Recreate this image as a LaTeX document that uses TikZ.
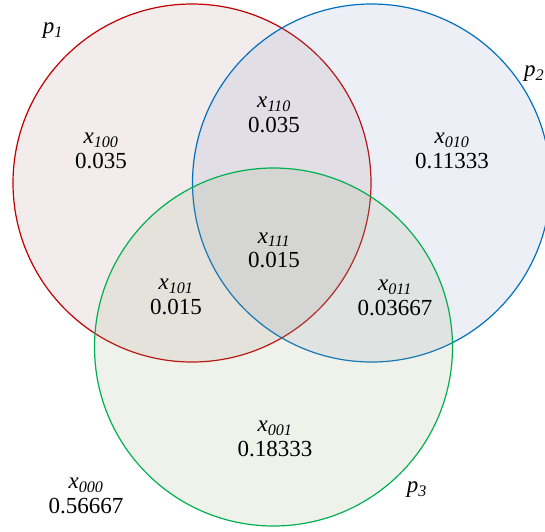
\documentclass[tikz,border=0pt]{standalone}
\usepackage{fontspec}
\setmainfont{Liberation Serif}
\usetikzlibrary{positioning}
\definecolor{redline}{RGB}{192,0,0}
\definecolor{blueline}{RGB}{0,112,192}
\definecolor{greenline}{RGB}{0,176,80}
\definecolor{redset}{RGB}{168,128,128}
\definecolor{blueset}{RGB}{128,148,188}
\definecolor{greenset}{RGB}{148,168,115}
\newcommand{\varx}[1]{\textit{x}\textsubscript{\textit{#1}}}
\newcommand{\varp}[1]{\textit{p}\textsubscript{\textit{#1}}}
\tikzset{
  setline/.style={line width=1.2pt, fill opacity=0.15},
  num/.style={inner sep=0pt, font=\fontsize{23}{23}\selectfont},
  lab/.style={inner sep=0pt, font=\fontsize{23}{23}\selectfont, above=5pt of #1}
}

\begin{document}
\begin{tikzpicture}[x=1pt, y=-1pt]
\useasboundingbox (0,0) rectangle (545,531);
\coordinate (c1) at (192,183);
\coordinate (c2) at (371.5,183);
\coordinate (c3) at (273.5,347);
% the three sets
\filldraw[setline, draw=redline, fill=redset] (c1) circle (179pt);
\filldraw[setline, draw=blueline, fill=blueset] (c2) circle (179pt);
\filldraw[setline, draw=greenline, fill=greenset] (c3) circle (179pt);
\path (53,31) node[num] (p1) {\varp{1}};
\path (524,74) node[num, anchor=west] (p2) {\varp{2}};
\path (417,490) node[num] (p3) {\varp{3}};
% regions
\node[num] (n100) at (101,161) {0.035};
\node[lab=n100] (x100) {\varx{100}};
\node[num] (n110) at (274,125) {0.035};
\node[lab=n110] (x110) {\varx{110}};
\node[num] (n010) at (452,161) {0.11333};
\node[lab=n010] (x010) {\varx{010}};
\node[num] (n111) at (274,260) {0.015};
\node[lab=n111] (x111) {\varx{111}};
\node[num] (n101) at (176,307) {0.015};
\node[lab=n101] (x101) {\varx{101}};
\node[num] (n011) at (395,308) {0.03667};
\node[lab=n011] (x011) {\varx{011}};
\node[num] (n001) at (275,449) {0.18333};
\node[lab=n001] (x001) {\varx{001}};
\node[num] (n000) at (86,506) {0.56667};
\node[lab=n000] (x000) {\varx{000}};
\end{tikzpicture}
\end{document}
